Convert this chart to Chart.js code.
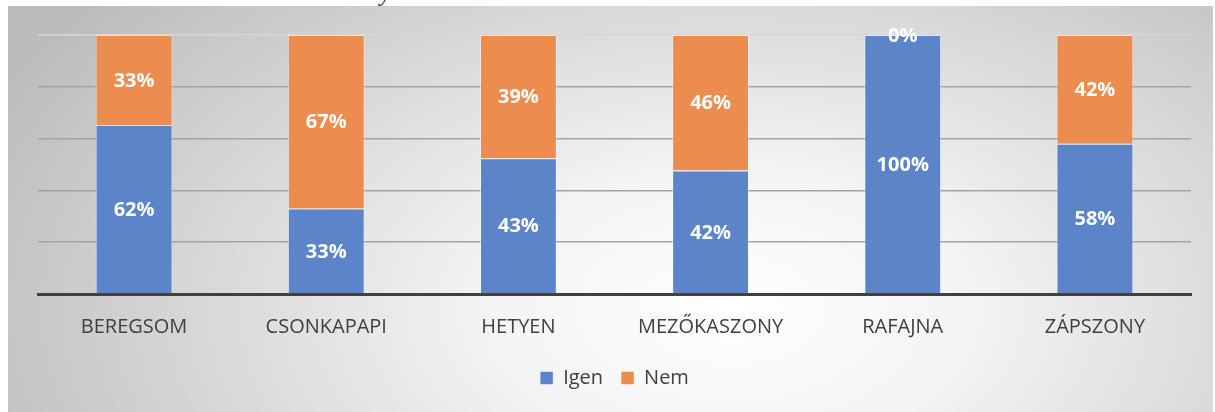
<!DOCTYPE html>
<html>
<head>
<meta charset="utf-8">
<script src="https://cdn.jsdelivr.net/npm/chart.js@4.4.1/dist/chart.umd.min.js"></script>
<style>
  html, body { margin: 0; padding: 0; background: #fff; overflow: hidden; }
  #wrap { position: relative; width: 1215px; height: 412px; }
  #bg {
    position: absolute; left: 8px; top: 6px; width: 1205px; height: 406px;
    background: radial-gradient(ellipse 68% 120% at 60% 75%, #ffffff 0%, #f3f3f3 30%, #bcbcbc 100%);
  }
  #frag {
    position: absolute; left: 380px; top: -20px;
    font: italic 24px "Liberation Serif", serif; color: #1f3864;
  }
  #box { position: absolute; left: 0; top: 0; width: 1215px; height: 412px; }
</style>
</head>
<body>
<div id="wrap">
  <div id="bg"></div>
  <span id="frag">y</span>
  <div id="box"><canvas id="chart"></canvas></div>
</div>
<script>
// Adatok
const telepulesek = ["BEREGSOM", "CSONKAPAPI", "HETYEN", "MEZŐKASZONY", "RAFAJNA", "ZÁPSZONY"];
const igen = [62, 33, 43, 42, 100, 58];
const nem = [33, 67, 39, 46, 0, 42];

// 100%-os halmozott oszlop: arányosítás a két érték összegére
function share(arr, i) {
    const total = igen[i] + nem[i];
    return total ? arr[i] / total * 100 : 0;
}

// Feliratok a szegmensek közepére
const segmentLabels = {
    id: 'segmentLabels',
    afterDatasetsDraw(chart) {
        const ctx = chart.ctx;
        const raw = [igen, nem];
        ctx.save();
        ctx.font = 'bold 20px "Open Sans"';
        ctx.fillStyle = '#ffffff';
        ctx.textAlign = 'center';
        ctx.textBaseline = 'middle';
        chart.data.datasets.forEach((ds, d) => {
            chart.getDatasetMeta(d).data.forEach((bar, i) => {
                const p = bar.getProps(['x', 'y', 'base'], true);
                ctx.fillText(raw[d][i] + '%', p.x, (p.y + p.base) / 2 + 1);
            });
        });
        ctx.restore();
    }
};

const ctx = document.getElementById('chart').getContext('2d');
new Chart(ctx, {
    type: 'bar',
    data: {
        labels: telepulesek,
        datasets: [{
            label: 'Igen',
            data: igen.map((v, i) => share(igen, i)),
            backgroundColor: '#5b84c9',
            borderColor: 'rgba(255,255,255,0.45)',
            borderWidth: 1,
            barPercentage: 0.4,
            categoryPercentage: 1
        }, {
            label: 'Nem',
            data: nem.map((v, i) => share(nem, i)),
            backgroundColor: '#ec8c4e',
            borderColor: 'rgba(255,255,255,0.45)',
            borderWidth: 1,
            barPercentage: 0.4,
            categoryPercentage: 1
        }]
    },
    options: {
        responsive: true,
        maintainAspectRatio: false,
        animation: false,
        layout: { padding: { left: 38, right: 24, top: 35, bottom: 14 } },
        scales: {
            x: {
                stacked: true,
                grid: { display: false },
                border: { color: '#404040', width: 3 },
                ticks: { color: '#404040', font: { family: 'Open Sans', size: 20 }, padding: 13 },
                afterFit(s) { s.height = 56; }
            },
            y: {
                stacked: true,
                min: 0, max: 100,
                ticks: { display: false, stepSize: 20 },
                border: { display: false },
                grid: {
                    drawTicks: false,
                    lineWidth: 1.5,
                    color: c => c.tick && c.tick.value === 100 ? '#d6d6d6' : '#a3a3a3'
                },
                afterFit(s) { s.width = 0; }
            }
        },
        plugins: {
            legend: {
                position: 'bottom',
                labels: {
                    boxWidth: 13, boxHeight: 13, padding: 18,
                    color: '#404040',
                    font: { family: 'Open Sans', size: 20 }
                }
            },
            tooltip: { enabled: false }
        }
    },
    plugins: [segmentLabels]
});
</script>
</body>
</html>
